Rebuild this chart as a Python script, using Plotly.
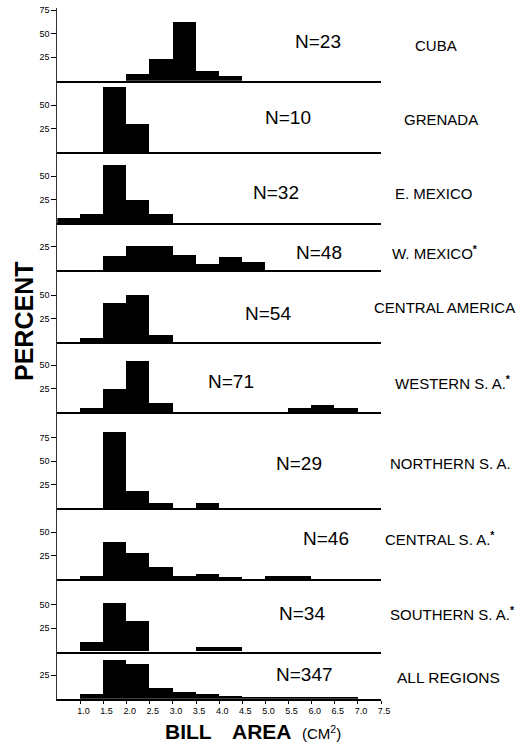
import plotly.graph_objects as go

# ---------------- data ----------------
BIN_LEFT = [0.5, 1.0, 1.5, 2.0, 2.5, 3.0, 3.5, 4.0, 4.5, 5.0, 5.5, 6.0, 6.5, 7.0]
BIN_WIDTH = 0.5

REGIONS = ["CUBA", "GRENADA", "E. MEXICO", "W. MEXICO", "CENTRAL AMERICA",
           "WESTERN S. A.", "NORTHERN S. A.", "CENTRAL S. A.", "SOUTHERN S. A.",
           "ALL REGIONS"]
SAMPLE_SIZES = [23, 10, 32, 48, 54, 71, 29, 46, 34, 347]
STARRED = [False, False, False, True, False, True, False, True, True, False]

# percent of birds per 0.5 cm2 bill-area class (bins listed in BIN_LEFT)
CUBA            = [0, 0, 0, 7, 23, 62, 10, 5.5, 0, 0, 0, 0, 0, 0]
GRENADA         = [0, 0, 70, 30, 0, 0, 0, 0, 0, 0, 0, 0, 0, 0]
E_MEXICO        = [5.5, 9.4, 62, 24.5, 9.4, 0, 0, 0, 0, 0, 0, 0, 0, 0]
W_MEXICO        = [0, 0, 15, 25.5, 25.5, 16, 6, 14, 8, 0, 0, 0, 0, 0]
CENTRAL_AMERICA = [0, 4.5, 41, 50, 7.5, 0, 0, 0, 0, 0, 0, 0, 0, 0]
WESTERN_SA      = [0, 5, 25, 55, 10, 0, 0, 0, 0, 0, 4.5, 7.5, 4.5, 0]
NORTHERN_SA     = [0, 0, 81, 18, 4.5, 0, 4.5, 0, 0, 0, 0, 0, 0, 0]
CENTRAL_SA      = [0, 4, 40, 28, 13.5, 4, 6, 2, 0, 4, 4, 0, 0, 0]
SOUTHERN_SA     = [0, 10, 52, 32, 0, 0, 4.5, 4.5, 0, 0, 0, 0, 0, 0]
ALL_REGIONS     = [0, 5, 42, 37.5, 12, 7.5, 5.5, 3.5, 2.5, 2, 1.5, 1.5, 1.5, 0]

PERCENTS = [CUBA, GRENADA, E_MEXICO, W_MEXICO, CENTRAL_AMERICA,
            WESTERN_SA, NORTHERN_SA, CENTRAL_SA, SOUTHERN_SA, ALL_REGIONS]

Y_TICKS = [[25, 50, 75], [25, 50], [25, 50], [25], [25, 50],
           [25, 50], [25, 50, 75], [25, 50], [25, 50], [25]]
X_TICKS = [1.0, 1.5, 2.0, 2.5, 3.0, 3.5, 4.0, 4.5, 5.0, 5.5, 6.0, 6.5, 7.0, 7.5]
X_TICK_LABELS = ["1.0", "1.5", "2.0", "2.5", "3.0", "3.5", "4.0", "4.5",
                 "5.0", "5.5", "6.0", "6.5", "7.0", "7.5"]

# ---------------- layout constants ----------------
W, H = 529, 745
FONT = "Liberation Sans, Arial, Helvetica, sans-serif"
PANEL_EDGES_PX = [8, 80.7, 152.3, 223.3, 270, 342, 412.3, 508, 579.3, 651.7, 698.7]
PX_PER_PCT = 0.94
X_LEFT_PX, X_RIGHT_PX = 57.3, 381
X_RANGE = [0.5, 7.5]

N_POS = [(318, 41), (288, 117), (276, 192), (319, 252), (268, 313),
         (231, 381), (299, 463), (326, 538), (302, 613), (304, 674)]
NAME_POS = [(413, 45), (402, 119), (393, 193), (390, 252), (372, 307),
            (393, 382), (388, 463), (383, 538), (388, 613), (395, 677)]


def px(x):
    return x / W


def py(y):
    return 1 - y / H


fig = go.Figure()
centers = [b + BIN_WIDTH / 2 for b in BIN_LEFT]
n = len(REGIONS)
layout_axes = {}
for i in range(n):
    xa = "x" if i == 0 else f"x{i+1}"
    ya = "y" if i == 0 else f"y{i+1}"
    fig.add_trace(go.Bar(
        x=centers, y=PERCENTS[i], width=BIN_WIDTH,
        marker=dict(color="black", line=dict(width=0)),
        xaxis=xa, yaxis=ya, showlegend=False, hoverinfo="skip"))
    top, base = PANEL_EDGES_PX[i], PANEL_EDGES_PX[i + 1]
    last = (i == n - 1)
    xdict = dict(
        domain=[px(X_LEFT_PX), px(X_RIGHT_PX)], range=X_RANGE,
        anchor=ya, showline=True, linecolor="black", linewidth=1.6,
        showgrid=False, zeroline=False, showticklabels=last, fixedrange=True)
    if last:
        xdict.update(
            ticks="outside", ticklen=3, tickwidth=1, tickcolor="black",
            tickvals=X_TICKS, ticktext=X_TICK_LABELS,
            ticklabelshift=3, ticklabelstandoff=0,
            tickfont=dict(family=FONT, size=9, color="black"))
    else:
        xdict.update(ticks="")
    layout_axes["xaxis" if i == 0 else f"xaxis{i+1}"] = xdict
    layout_axes["yaxis" if i == 0 else f"yaxis{i+1}"] = dict(
        domain=[py(base), py(top)], range=[0, (base - top) / PX_PER_PCT],
        anchor=xa, showline=True, linecolor="#333", linewidth=1,
        showgrid=False, zeroline=False,
        ticks="outside", ticklen=5, tickwidth=1, tickcolor="black",
        tickvals=Y_TICKS[i], ticktext=[str(t) for t in Y_TICKS[i]],
        tickfont=dict(family=FONT, size=9, color="black"), fixedrange=True)

annotations = []
for i in range(n):
    nx, ny = N_POS[i]
    annotations.append(dict(
        text=f"N={SAMPLE_SIZES[i]}", x=px(nx), y=py(ny), xref="paper", yref="paper",
        xanchor="center", yanchor="middle", showarrow=False,
        font=dict(family=FONT, size=19, color="black")))
    tx, ty = NAME_POS[i]
    label = REGIONS[i] + ("<sup><b>*</b></sup>" if STARRED[i] else "")
    annotations.append(dict(
        text=label, x=px(tx), y=py(ty), xref="paper", yref="paper",
        xanchor="left", yanchor="middle", showarrow=False,
        font=dict(family=FONT, size=15 if i < n - 1 else 15.5, color="black")))

annotations.append(dict(
    text="<b>PERCENT</b>", x=px(24), y=py(322), xref="paper", yref="paper",
    xanchor="center", yanchor="middle", textangle=-90, showarrow=False,
    font=dict(family=FONT, size=25, color="black")))
annotations.append(dict(
    text="<b>BILL</b>", x=px(188), y=py(731), xref="paper", yref="paper",
    xanchor="center", yanchor="middle", showarrow=False,
    font=dict(family=FONT, size=21, color="black")))
annotations.append(dict(
    text="<b>AREA</b>", x=px(262), y=py(731), xref="paper", yref="paper",
    xanchor="center", yanchor="middle", showarrow=False,
    font=dict(family=FONT, size=21, color="black")))
annotations.append(dict(
    text="(CM<sup>2</sup>)", x=px(321), y=py(732), xref="paper", yref="paper",
    xanchor="center", yanchor="middle", showarrow=False,
    font=dict(family=FONT, size=15, color="black")))

fig.update_layout(
    width=W, height=H, autosize=False,
    margin=dict(l=0, r=0, t=0, b=0, autoexpand=False),
    paper_bgcolor="white", plot_bgcolor="white",
    bargap=0, showlegend=False, annotations=annotations,
    **layout_axes)

fig.write_html(
    "out.html", config={"displayModeBar": False},
    post_script="document.body.style.margin='0';document.body.style.overflow='hidden';")
